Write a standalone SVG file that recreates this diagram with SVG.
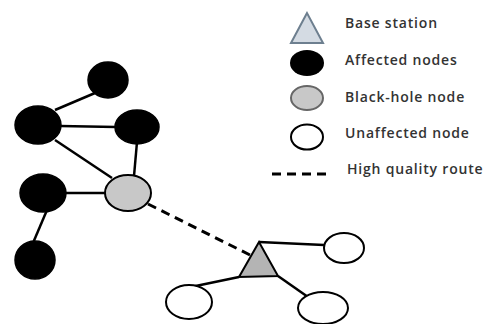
<svg xmlns="http://www.w3.org/2000/svg" width="489" height="324" viewBox="0 0 489 324">
<style>
.e{stroke:#000;stroke-width:2.5;fill:none}
.aff{fill:#000;stroke:#000;stroke-width:1.5}
.bh{fill:#c8c8c8;stroke:#000;stroke-width:2}
.un{fill:#fff;stroke:#000;stroke-width:2}
.bs{fill:#b4b4b4;stroke:#000;stroke-width:2;stroke-linejoin:miter}
.t{font-family:"Open Sans","Liberation Sans",sans-serif;font-size:14px;font-weight:600;letter-spacing:0.8px;fill:#333}
.d{stroke:#000;stroke-width:3;stroke-dasharray:9,6;fill:none}
</style>
<rect width="489" height="324" fill="#fff"/>
<g id="connectors">
<line class="e" x1="55" y1="110" x2="95" y2="93"/>
<line class="e" x1="60" y1="126" x2="116" y2="127"/>
<line class="e" x1="55" y1="140" x2="112" y2="178"/>
<line class="e" x1="137" y1="142" x2="134" y2="176"/>
<line class="e" x1="66" y1="193" x2="105" y2="193"/>
<line class="e" x1="47" y1="210" x2="33" y2="243"/>
<line class="d" x1="148" y1="204" x2="250" y2="255"/>
<line class="e" x1="259" y1="242" x2="324" y2="245"/>
<line class="e" x1="239" y1="277" x2="186" y2="288"/>
<line class="e" x1="278" y1="276" x2="308" y2="297"/>
</g>
<g id="n1"><ellipse class="aff" cx="108" cy="80" rx="20" ry="18"/></g>
<g id="n2"><ellipse class="aff" cx="38" cy="125" rx="23" ry="19"/></g>
<g id="n3"><ellipse class="aff" cx="137" cy="127" rx="22" ry="17"/></g>
<g id="n4"><ellipse class="aff" cx="43" cy="193" rx="23" ry="19"/></g>
<g id="n5"><ellipse class="aff" cx="35" cy="260" rx="20" ry="19"/></g>
<g id="blackhole"><ellipse class="bh" cx="128" cy="193" rx="23" ry="18"/></g>
<g id="base"><polygon class="bs" points="259,242 239,277 278,276"/></g>
<g id="u1"><ellipse class="un" cx="344" cy="248" rx="20" ry="15"/></g>
<g id="u2"><ellipse class="un" cx="189" cy="302" rx="23" ry="17"/></g>
<g id="u3"><ellipse class="un" cx="323" cy="308" rx="25" ry="16"/></g>
<g id="legend">
<polygon points="307,13 291,43 323,43" fill="#d4dbe3" stroke="#6d7f8f" stroke-width="2"/>
<ellipse cx="307" cy="63" rx="17" ry="13" fill="#000"/>
<ellipse cx="307" cy="98" rx="16" ry="12" fill="#c8c8c8" stroke="#666" stroke-width="2"/>
<ellipse cx="307" cy="137" rx="16" ry="12.5" fill="#fff" stroke="#000" stroke-width="2"/>
<line class="d" x1="272" y1="174" x2="332" y2="174" stroke-width="2.5" stroke-dasharray="8,5"/>
<text class="t" x="345" y="28">Base station</text>
<text class="t" x="345" y="65">Affected nodes</text>
<text class="t" x="345" y="102">Black-hole node</text>
<text class="t" x="345" y="138">Unaffected node</text>
<text class="t" x="347" y="174">High quality route</text>
</g>
</svg>
